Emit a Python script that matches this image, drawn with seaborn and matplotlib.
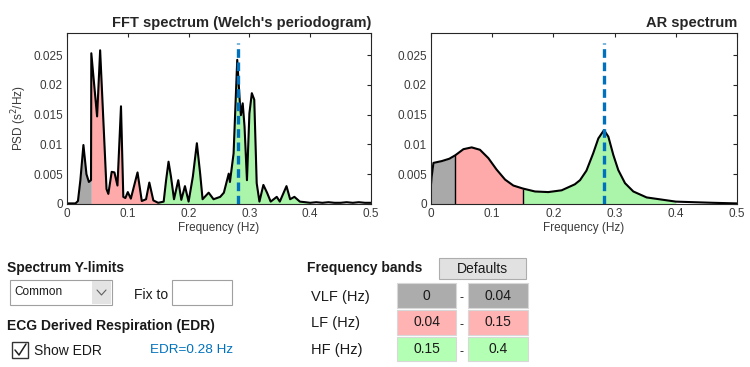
import numpy as np
import matplotlib
matplotlib.use('Agg')
import matplotlib.pyplot as plt
from matplotlib.patches import Rectangle
import seaborn as sns

# Welch periodogram (FFT)
fft_freq = [0.0, 0.008, 0.014, 0.018, 0.022, 0.027, 0.032, 0.036, 0.0395, 0.04,
            0.044, 0.0495, 0.0545, 0.059, 0.065, 0.068, 0.0735, 0.078, 0.083, 0.0888,
            0.0926, 0.096, 0.1, 0.105, 0.116, 0.123, 0.13, 0.1354, 0.142, 0.15,
            0.159, 0.163, 0.167, 0.171, 0.176, 0.183, 0.188, 0.194, 0.2, 0.207,
            0.2136, 0.219, 0.223, 0.233, 0.241, 0.252, 0.258, 0.266, 0.268, 0.274,
            0.28, 0.284, 0.286, 0.289, 0.292, 0.296, 0.3, 0.304, 0.308, 0.312,
            0.3165, 0.323, 0.329, 0.335, 0.345, 0.35, 0.361, 0.367, 0.374, 0.383,
            0.392, 0.4, 0.41, 0.42, 0.43, 0.44, 0.45, 0.46, 0.47, 0.48, 0.49, 0.5]
fft_psd = [0.0001, 0.0001, 0.0001, 0.0005, 0.004, 0.0099, 0.005, 0.0037, 0.004, 0.0253,
           0.0208, 0.0147, 0.0258, 0.0158, 0.0025, 0.0017, 0.0054, 0.0053, 0.0031, 0.0164,
           0.0012, 0.001, 0.002, 0.0009, 0.0053, 0.0005, 0.0008, 0.0036, 0.0006, 0.0002,
           0.0004, 0.004, 0.0071, 0.0046, 0.0008, 0.004, 0.0007, 0.003, 0.0004, 0.0046,
           0.0102, 0.0051, 0.0008, 0.0019, 0.0008, 0.0012, 0.0019, 0.0051, 0.0037, 0.0085,
           0.0242, 0.0175, 0.0149, 0.0169, 0.013, 0.004, 0.0152, 0.0186, 0.0175, 0.0035,
           0.0004, 0.0032, 0.0019, 0.0004, 0.0012, 0.0004, 0.003, 0.0008, 0.0012, 0.0004,
           0.0003, 0.0002, 0.0003, 0.0002, 0.0003, 0.0002, 0.0002, 0.0003, 0.0002, 0.0003,
           0.0002, 0.0002]

# AR spectrum
ar_freq = [0.0, 0.001, 0.004, 0.0175, 0.03, 0.04, 0.053, 0.0665, 0.08, 0.0937,
           0.107, 0.121, 0.1345, 0.15, 0.17, 0.1917, 0.2135, 0.235, 0.2435, 0.254,
           0.265, 0.2734, 0.2827, 0.2898, 0.298, 0.306, 0.317, 0.3306, 0.3524, 0.3796,
           0.4, 0.43, 0.461, 0.5]
ar_psd = [0.0033, 0.0045, 0.0069, 0.0072, 0.0076, 0.0082, 0.0092, 0.0095, 0.0091, 0.0077,
          0.0058, 0.0041, 0.0031, 0.0026, 0.0021, 0.002, 0.0023, 0.0033, 0.0040, 0.0056,
          0.0085, 0.011, 0.0124, 0.0113, 0.0082, 0.0057, 0.0035, 0.0021, 0.0011, 0.0007,
          0.0004, 0.0003, 0.0002, 0.0001]

band_names = ['VLF (Hz)', 'LF (Hz)', 'HF (Hz)']
band_lo = [0, 0.04, 0.15]
band_hi = [0.04, 0.15, 0.4]
band_fill = ['#a9a9a9', '#ffaaaa', '#aaf5aa']
band_box = ['#acacac', '#ffb3b3', '#b3ffb3']

edr_freq = 0.282
edr_text = 'EDR=0.28 Hz'

x_ticks = [0, 0.1, 0.2, 0.3, 0.4, 0.5]
x_tick_labels = ['0', '0.1', '0.2', '0.3', '0.4', '0.5']
y_ticks = [0, 0.005, 0.01, 0.015, 0.02, 0.025]
y_tick_labels = ['0', '0.005', '0.01', '0.015', '0.02', '0.025']

sns.set_theme(style='white')
plt.rcParams['font.family'] = ['Liberation Sans', 'DejaVu Sans']

W, H = 750, 367
fig = plt.figure(figsize=(W / 100, H / 100), dpi=100)


def px_axes(x0, y0, x1, y1):
    return fig.add_axes([x0 / W, 1 - y1 / H, (x1 - x0) / W, (y1 - y0) / H])


def draw_spectrum(ax, freq, psd, title, edges):
    f = np.array(freq)
    p = np.array(psd)
    for lo, hi, c in zip(band_lo, band_hi, band_fill):
        m = (f >= lo) & (f <= hi)
        ax.fill_between(f[m], 0, p[m], color=c, lw=0)
    if edges:
        for b in band_hi[:2]:
            i = np.argmin(np.abs(f - b))
            ax.vlines(f[i], 0, p[i], color='black', lw=1)
    sns.lineplot(x=f, y=p, ax=ax, color='black', lw=1.5, estimator=None, sort=False)
    ax.plot([edr_freq, edr_freq], [0, 0.027], color='#0072BD', lw=2.4,
            dashes=(2.6, 1.4))
    ax.set_xlim(0, 0.5)
    ax.set_ylim(0, 0.0287)
    ax.set_xticks(x_ticks)
    ax.set_xticklabels(x_tick_labels)
    ax.set_yticks(y_ticks)
    ax.set_yticklabels(y_tick_labels)
    ax.tick_params(direction='in', length=3, width=0.8, top=True, right=True,
                   labelsize=8.5, labelcolor='#3a3a3a', color='#262626', pad=3)
    for s in ax.spines.values():
        s.set_color('#262626')
        s.set_linewidth(0.8)
    ax.set_xlabel('Frequency (Hz)', fontsize=8.5, color='#3a3a3a', labelpad=1)
    ax.set_ylabel('')
    ax.set_title(title, loc='right', fontsize=10.5, fontweight='bold', pad=4)


ax1 = px_axes(67, 33, 371, 204)
draw_spectrum(ax1, fft_freq, fft_psd, "FFT spectrum (Welch's periodogram)", False)
ax1.set_ylabel('PSD (s$^2$/Hz)', fontsize=8.5, color='#3a3a3a', labelpad=3)

ax2 = px_axes(431, 33, 737, 204)
draw_spectrum(ax2, ar_freq, ar_psd, 'AR spectrum', True)

# control panel drawn in pixel coordinates
ov = fig.add_axes([0, 0, 1, 1])
ov.set_xlim(0, W)
ov.set_ylim(H, 0)
ov.axis('off')


def box(x0, y0, x1, y1, fc, ec='#9a9a9a', lw=0.8):
    ov.add_patch(Rectangle((x0, y0), x1 - x0, y1 - y0, facecolor=fc, edgecolor=ec, lw=lw))


txt = dict(va='center', color='#1a1a1a')

ov.text(7, 268, 'Spectrum Y-limits', fontsize=10, fontweight='bold', **txt)
box(10, 280, 112, 305, 'white', '#a0a0a0')
box(92, 281, 111, 304, '#e3e3e3', 'none')
ov.plot([97, 101.5, 106], [290, 295, 290], color='#606060', lw=0.8)
ov.text(14, 292, 'Common', fontsize=8.5, **txt)
ov.text(134, 295, 'Fix to', fontsize=10, **txt)
box(172, 280, 232, 305, 'white', '#a0a0a0')

ov.text(7, 326, 'ECG Derived Respiration (EDR)', fontsize=10, fontweight='bold', **txt)
box(12, 342, 28, 358, 'white', '#333333', 1)
ov.plot([15, 19, 26], [350, 355, 344], color='#222222', lw=1.1)
ov.text(34, 351, 'Show EDR', fontsize=10, **txt)
ov.text(150, 350, edr_text, fontsize=9.7, va='center', color='#0072BD')

ov.text(307, 268, 'Frequency bands', fontsize=10, fontweight='bold', **txt)
box(439, 258, 526, 279, '#e1e1e1', '#adadad')
ov.text(482.5, 269, 'Defaults', fontsize=10, ha='center', **txt)

rows = [(283, 308), (310, 335), (337, 361)]
for name, lo, hi, c, (y0, y1) in zip(band_names, band_lo, band_hi, band_box, rows):
    yc = (y0 + y1) / 2
    ov.text(311, yc + 1, name, fontsize=10.5, **txt)
    box(397, y0, 456, y1, c, '#d8d8d8')
    box(468, y0, 528, y1, c, '#d8d8d8')
    ov.text(426.5, yc, f'{lo:g}', fontsize=10, ha='center', **txt)
    ov.text(498, yc, f'{hi:g}', fontsize=10, ha='center', **txt)
    ov.text(462, yc + 3, '-', fontsize=9, ha='center', **txt)

fig.savefig('out.png', dpi=100)
